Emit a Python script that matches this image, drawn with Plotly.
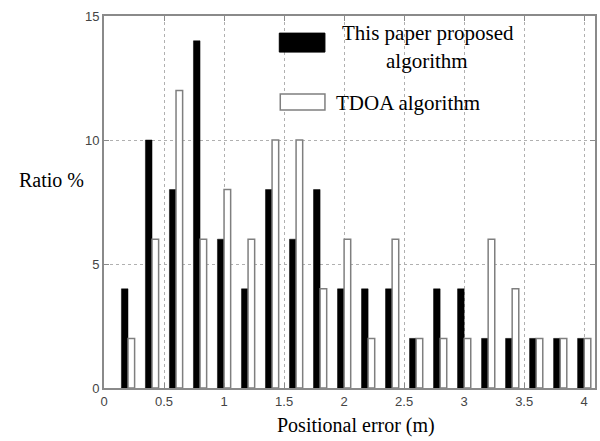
import plotly.graph_objects as go

# Data
error_bins = [0.2, 0.4, 0.6, 0.8, 1.0, 1.2, 1.4, 1.6, 1.8, 2.0,
              2.2, 2.4, 2.6, 2.8, 3.0, 3.2, 3.4, 3.6, 3.8, 4.0]
proposed = [4, 10, 8, 14, 6, 4, 8, 6, 8, 4,
            4, 4, 2, 4, 4, 2, 2, 2, 2, 2]
tdoa = [2, 6, 12, 6, 8, 6, 10, 10, 4, 6,
        2, 6, 2, 2, 2, 6, 4, 2, 2, 2]
x_ticks = [0, 0.5, 1, 1.5, 2, 2.5, 3, 3.5, 4]
x_tick_labels = ["0", "0.5", "1", "1.5", "2", "2.5", "3", "3.5", "4"]
y_ticks = [0, 5, 10, 15]
y_tick_labels = ["0", "5", "10", "15"]
name_proposed = "This paper proposed algorithm"
name_tdoa = "TDOA algorithm"

serif = "Liberation Serif, Times New Roman, serif"
sans = "Liberation Sans, Arial, sans-serif"

fig = go.Figure()
fig.add_trace(go.Bar(x=error_bins, y=proposed, name=name_proposed,
                     marker=dict(color="black", line=dict(color="black", width=0.5)),
                     showlegend=False))
fig.add_trace(go.Bar(x=error_bins, y=tdoa, name=name_tdoa,
                     marker=dict(color="white", line=dict(color="#7f7f7f", width=1.5)),
                     showlegend=False))

axis_common = dict(
    showline=True, linecolor="#8a8a8a", linewidth=2, mirror="ticks",
    ticks="inside", ticklen=5, tickcolor="#8a8a8a",
    showgrid=True, gridcolor="#b0b0b0", griddash="dot", gridwidth=1,
    zeroline=False,
    tickfont=dict(family=sans, size=13, color="#444444"),
)

fig.update_layout(
    width=600, height=441,
    margin=dict(l=104, r=3, t=16, b=53),
    paper_bgcolor="white", plot_bgcolor="white",
    barmode="group", bargap=0.45, bargroupgap=0,
    xaxis=dict(range=[0, 4.09], tickvals=x_ticks, ticktext=x_tick_labels, **axis_common),
    yaxis=dict(range=[0, 15], tickvals=y_ticks, ticktext=y_tick_labels, **axis_common),
)

# Legend drawn manually (large rectangles like the original)
fig.add_shape(type="rect", xref="paper", yref="paper",
              x0=0.357, x1=0.450, y0=0.903, y1=0.954,
              fillcolor="black", line=dict(color="black", width=1))
fig.add_shape(type="rect", xref="paper", yref="paper",
              x0=0.359, x1=0.450, y0=0.747, y1=0.790,
              fillcolor="white", line=dict(color="#7f7f7f", width=1.5))

fig.add_annotation(xref="paper", yref="paper", x=0.660, y=0.955,
                   text="This paper proposed", showarrow=False,
                   xanchor="center", yanchor="middle",
                   font=dict(family=serif, size=21, color="black"))
fig.add_annotation(xref="paper", yref="paper", x=0.657, y=0.880,
                   text="algorithm", showarrow=False,
                   xanchor="center", yanchor="middle",
                   font=dict(family=serif, size=21, color="black"))
fig.add_annotation(xref="paper", yref="paper", x=0.469, y=0.765,
                   text=name_tdoa, showarrow=False,
                   xanchor="left", yanchor="middle",
                   font=dict(family=serif, size=21, color="black"))

# Axis titles
fig.add_annotation(xref="paper", yref="paper", x=0.513, y=-0.137,
                   text="Positional error (m)", showarrow=False,
                   xanchor="center", yanchor="bottom",
                   font=dict(family=serif, size=20, color="black"))
fig.add_annotation(xref="paper", yref="paper", x=-0.1075, y=0.559,
                   text="Ratio %", showarrow=False,
                   xanchor="center", yanchor="middle",
                   font=dict(family=serif, size=20, color="black"))

fig.write_html(
    "out.html",
    config={"displayModeBar": False},
    post_script="document.body.style.margin='0';document.body.style.padding='0';"
                "document.documentElement.style.overflow='hidden';",
)
